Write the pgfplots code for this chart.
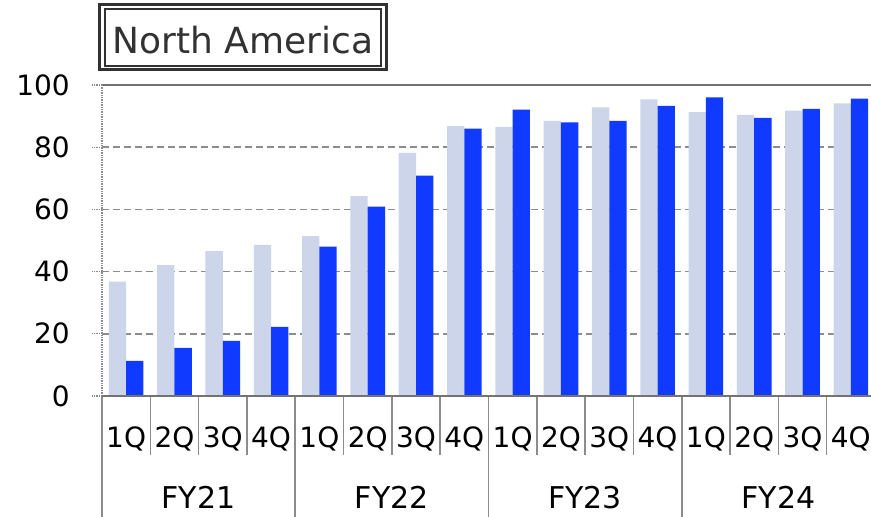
\documentclass[border=0pt]{standalone}
\usepackage{fontspec}
\setmainfont{DejaVu Sans}
\usepackage{pgfplots}
\pgfplotsset{compat=1.18}

\definecolor{lightbar}{RGB}{205,213,234}
\definecolor{darkbar}{RGB}{16,58,255}
\definecolor{gridgray}{RGB}{140,140,140}
\definecolor{linegray}{RGB}{115,115,115}
\definecolor{boxgray}{RGB}{50,50,50}

\begin{document}
\begin{tikzpicture}
\begin{axis}[
    at={(0pt,0pt)}, anchor=south west,
    scale only axis,
    width=773pt, height=311pt,
    ybar=0pt,
    bar width=17.3pt,
    xmin=-0.5, xmax=15.5,
    ymin=0, ymax=100,
    ytick={0,20,...,100},
    xtick={0,...,15},
    xticklabels={1Q,2Q,3Q,4Q,1Q,2Q,3Q,4Q,1Q,2Q,3Q,4Q,1Q,2Q,3Q,4Q},
    major tick length=0pt,
    tick style={draw=none},
    axis line style={draw=none},
    /pgf/number format/assume math mode=true,
    tick label style={font=\fontsize{28}{32}\selectfont, text=black},
    xticklabel style={anchor=base, inner sep=0pt, yshift=-51pt},
    yticklabel style={anchor=east, inner sep=0pt, xshift=-32pt},
    ymajorgrids=true,
    grid style={gridgray, line width=1.4pt, dash pattern=on 7pt off 4pt},
    clip=false,
]
\addplot[fill=lightbar, draw=none] coordinates {
  (0,36.8) (1,42.1) (2,46.6) (3,48.6)
  (4,51.4) (5,64.3) (6,78.2) (7,86.8)
  (8,86.5) (9,88.5) (10,92.8) (11,95.4)
  (12,91.3) (13,90.4) (14,91.8) (15,94.1)};
\addplot[fill=darkbar, draw=none] coordinates {
  (0,11.3) (1,15.5) (2,17.7) (3,22.2)
  (4,48.0) (5,60.9) (6,70.9) (7,86.0)
  (8,92.1) (9,88.0) (10,88.5) (11,93.3)
  (12,96.0) (13,89.4) (14,92.3) (15,95.6)};

% frame lines
\draw[linegray, line width=1.5pt] (axis cs:-0.5,100) -- (axis cs:15.5,100);
\draw[gridgray, line width=1.4pt, densely dotted] (axis cs:-0.5,0) -- (axis cs:-0.5,100);
\pgfplotsinvokeforeach{0,20,40,60,80,100}{
  \draw[gridgray, line width=1.2pt, densely dotted] (axis cs:-0.5,#1) -- ++(-11pt,0pt);
}
% category dividers
\pgfplotsinvokeforeach{0.5,1.5,2.5,4.5,5.5,6.5,8.5,9.5,10.5,12.5,13.5,14.5}{
  \draw[gridgray, line width=1.5pt] (axis cs:#1,0) -- ++(0pt,-59pt);
}
\pgfplotsinvokeforeach{-0.5,3.5,7.5,11.5,15.5}{
  \draw[gridgray, line width=1.5pt] (axis cs:#1,0) -- ++(0pt,-125pt);
}
\draw[linegray, line width=2.2pt] (axis cs:-0.5,0) -- (axis cs:15.5,0);
% fiscal year labels
\node[anchor=base, font=\fontsize{30}{34}\selectfont] at ([yshift=-112pt]axis cs:1.5,0) {FY21};
\node[anchor=base, font=\fontsize{30}{34}\selectfont] at ([yshift=-112pt]axis cs:5.5,0) {FY22};
\node[anchor=base, font=\fontsize{30}{34}\selectfont] at ([yshift=-112pt]axis cs:9.5,0) {FY23};
\node[anchor=base, font=\fontsize{30}{34}\selectfont] at ([yshift=-112pt]axis cs:13.5,0) {FY24};
\end{axis}

% title box
\draw[boxgray, line width=3pt] (-2pt,326pt) rectangle (284pt,391pt);
\draw[boxgray, line width=2pt] (3pt,329.5pt) rectangle (279pt,387pt);
\node[anchor=base, text=boxgray, font=\fontsize{36}{40}\selectfont] at (141pt,342.7pt) {North America};

\pgfresetboundingbox
\useasboundingbox (-102pt,-121pt) rectangle (769pt,396pt);
\end{tikzpicture}
\end{document}
